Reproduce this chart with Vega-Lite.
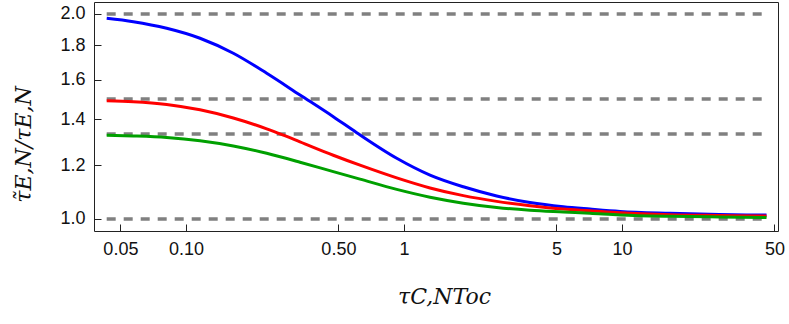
{
  "$schema": "https://vega.github.io/schema/vega-lite/v6.json",
  "width": 684,
  "height": 229,
  "autosize": {"type": "none"},
  "padding": {"left": 94, "top": 2, "right": 11, "bottom": 93},
  "background": "white",
  "config": {
    "view": {"stroke": "#222222", "strokeWidth": 1},
    "axis": {
      "domain": false,
      "ticks": false,
      "grid": true,
      "gridColor": "#222222",
      "gridOpacity": 1,
      "gridWidth": 1,
      "labelFont": "Liberation Sans",
      "labelFontSize": 18,
      "labelColor": "#111111",
      "labelPadding": 9,
      "labelFlush": false,
      "labelOverlap": false,
      "titleFont": "DejaVu Serif",
      "titleFontStyle": "italic",
      "titleFontWeight": "normal",
      "titleFontSize": 22,
      "titleColor": "#111111"
    }
  },
  "datasets": {
    "curves": [
      {"s": "blue", "x": 0.04327, "y": 1.971},
      {"s": "blue", "x": 0.05731, "y": 1.9484},
      {"s": "blue", "x": 0.08154, "y": 1.9054},
      {"s": "blue", "x": 0.11593, "y": 1.8422},
      {"s": "blue", "x": 0.16481, "y": 1.751},
      {"s": "blue", "x": 0.2345, "y": 1.6365},
      {"s": "blue", "x": 0.33338, "y": 1.5208},
      {"s": "blue", "x": 0.47386, "y": 1.4131},
      {"s": "blue", "x": 0.60674, "y": 1.3388},
      {"s": "blue", "x": 0.926, "y": 1.228},
      {"s": "blue", "x": 1.316, "y": 1.160},
      {"s": "blue", "x": 1.871, "y": 1.115},
      {"s": "blue", "x": 2.662, "y": 1.081},
      {"s": "blue", "x": 3.784, "y": 1.057},
      {"s": "blue", "x": 5.38, "y": 1.042},
      {"s": "blue", "x": 7.13, "y": 1.034},
      {"s": "blue", "x": 9.8, "y": 1.026},
      {"s": "blue", "x": 16.6, "y": 1.0195},
      {"s": "blue", "x": 28, "y": 1.015},
      {"s": "blue", "x": 46, "y": 1.0136},
      {"s": "red", "x": 0.04327, "y": 1.4917},
      {"s": "red", "x": 0.05731, "y": 1.4869},
      {"s": "red", "x": 0.08154, "y": 1.473},
      {"s": "red", "x": 0.11593, "y": 1.4463},
      {"s": "red", "x": 0.16481, "y": 1.4069},
      {"s": "red", "x": 0.2345, "y": 1.3562},
      {"s": "red", "x": 0.2794, "y": 1.3278},
      {"s": "red", "x": 0.33338, "y": 1.298},
      {"s": "red", "x": 0.47386, "y": 1.2405},
      {"s": "red", "x": 0.6283, "y": 1.1995},
      {"s": "red", "x": 0.926, "y": 1.1491},
      {"s": "red", "x": 1.316, "y": 1.1107},
      {"s": "red", "x": 1.871, "y": 1.0822},
      {"s": "red", "x": 2.662, "y": 1.0613},
      {"s": "red", "x": 3.784, "y": 1.0458},
      {"s": "red", "x": 5.38, "y": 1.034},
      {"s": "red", "x": 7.13, "y": 1.028},
      {"s": "red", "x": 9.8, "y": 1.021},
      {"s": "red", "x": 16.6, "y": 1.0146},
      {"s": "red", "x": 28, "y": 1.012},
      {"s": "red", "x": 46, "y": 1.010},
      {"s": "green", "x": 0.04327, "y": 1.3271},
      {"s": "green", "x": 0.05731, "y": 1.324},
      {"s": "green", "x": 0.08154, "y": 1.3173},
      {"s": "green", "x": 0.11593, "y": 1.303},
      {"s": "green", "x": 0.16481, "y": 1.2802},
      {"s": "green", "x": 0.2345, "y": 1.2486},
      {"s": "green", "x": 0.33338, "y": 1.2117},
      {"s": "green", "x": 0.47386, "y": 1.1735},
      {"s": "green", "x": 0.6283, "y": 1.1441},
      {"s": "green", "x": 0.926, "y": 1.1052},
      {"s": "green", "x": 1.316, "y": 1.0763},
      {"s": "green", "x": 1.871, "y": 1.055},
      {"s": "green", "x": 2.662, "y": 1.0398},
      {"s": "green", "x": 3.784, "y": 1.030},
      {"s": "green", "x": 5.38, "y": 1.024},
      {"s": "green", "x": 7.13, "y": 1.0195},
      {"s": "green", "x": 9.8, "y": 1.0136},
      {"s": "green", "x": 16.6, "y": 1.009},
      {"s": "green", "x": 28, "y": 1.007},
      {"s": "green", "x": 46, "y": 1.005}
    ],
    "refs": [
      {"x": 0.04327, "xe": 46, "y": 2.0},
      {"x": 0.04327, "xe": 46, "y": 1.5},
      {"x": 0.04327, "xe": 46, "y": 1.3333},
      {"x": 0.04327, "xe": 46, "y": 1.0}
    ]
  },
  "resolve": {"axis": {"x": "independent", "y": "independent"}},
  "layer": [
    {
      "data": {"name": "refs"},
      "mark": {"type": "rule", "color": "#808080", "strokeWidth": 3.5, "strokeDash": [9, 8]},
      "encoding": {
        "x": {
          "field": "x",
          "type": "quantitative",
          "scale": {"type": "log", "domain": [0.03784, 51.94], "nice": false, "zero": false},
          "axis": {
            "orient": "bottom",
            "title": "τC,NToc",
            "titleX": 350,
            "titleY": 72,
            "titleAlign": "center",
            "titleBaseline": "alphabetic",
            "values": [0.05, 0.1, 0.5, 1, 5, 10, 50],
            "labelExpr": "datum.value == 0.05 ? '0.05' : datum.value == 0.1 ? '0.10' : datum.value == 0.5 ? '0.50' : datum.label",
            "gridDash": [0, 222, 7, 3000]
          }
        },
        "x2": {"field": "xe"},
        "y": {
          "field": "y",
          "type": "quantitative",
          "scale": {"type": "log", "domain": [0.9602, 2.0825], "nice": false, "zero": false},
          "axis": {
            "orient": "left",
            "title": "τ̃E,N/τE,N",
            "titleAngle": -90,
            "titleX": -64,
            "titleY": 142,
            "titleAlign": "center",
            "titleBaseline": "alphabetic",
            "values": [1.0, 1.2, 1.4, 1.6, 1.8, 2.0],
            "labelExpr": "format(datum.value, '.1f')",
            "gridDash": [7, 3000]
          }
        }
      }
    },
    {
      "data": {"name": "curves"},
      "mark": {"type": "line", "strokeWidth": 3, "interpolate": "monotone"},
      "encoding": {
        "x": {
          "field": "x",
          "type": "quantitative",
          "axis": {
            "orient": "bottom",
            "title": null,
            "labels": false,
            "values": [0.04, 0.06, 0.07, 0.08, 0.09, 0.2, 0.3, 0.4, 0.6, 0.7, 0.8, 0.9, 2, 3, 4, 6, 7, 8, 9, 20, 30, 40],
            "gridDash": [0, 225, 4, 3000]
          }
        },
        "y": {
          "field": "y",
          "type": "quantitative",
          "axis": {
            "orient": "left",
            "title": null,
            "labels": false,
            "values": [1.05, 1.1, 1.15, 1.25, 1.3, 1.35, 1.45, 1.5, 1.55, 1.65, 1.7, 1.75, 1.85, 1.9, 1.95, 2.05],
            "gridDash": [4, 3000]
          }
        },
        "color": {
          "field": "s",
          "type": "nominal",
          "scale": {"domain": ["blue", "red", "green"], "range": ["#0000FF", "#FF0000", "#00A000"]},
          "legend": null
        }
      }
    }
  ]
}
